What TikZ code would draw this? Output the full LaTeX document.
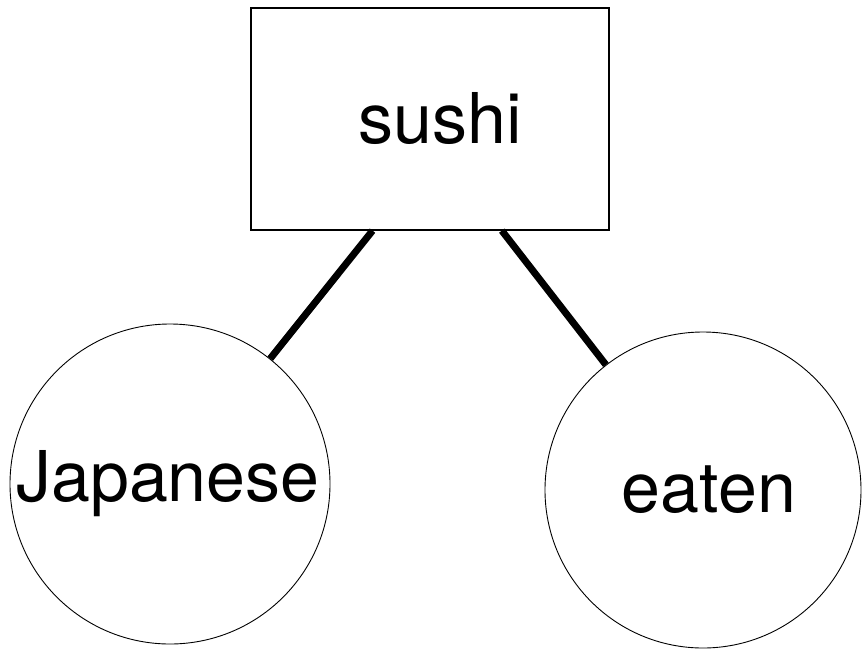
\documentclass[tikz,border=0pt]{standalone}
\usepackage{fontspec}
\setmainfont{TeX Gyre Heros}
\usetikzlibrary{calc}
\begin{document}
\begin{tikzpicture}[x=1pt,y=-1pt,
  box/.style={draw,line width=1.3pt,minimum width=358pt,minimum height=222pt,inner sep=0pt},
  ball/.style={draw,circle,line width=0.9pt,inner sep=0pt},
  word/.style={font=\fontsize{70pt}{84pt}\selectfont,inner sep=0pt},
  link/.style={line width=7pt}]
\useasboundingbox (0,0) rectangle (863,649);
\node[box] (sushi) at (430,119) {};
\node[word] (sushitext) at (440,119) {sushi};
\node[ball,minimum size=320pt] (jap) at (170,484) {};
\node[word] (japtext) at (168,484) {Japanese};
\node[ball,minimum size=316pt] (eat) at (703,490) {};
\node[word] (eattext) at (709,490) {eaten};
\coordinate (sl) at ($(sushi.south west)!0.34!(sushi.south east)$);
\coordinate (sr) at ($(sushi.south west)!0.70!(sushi.south east)$);
\draw[link] (sl) -- (jap);
\draw[link] (sr) -- (eat);
\end{tikzpicture}
\end{document}
